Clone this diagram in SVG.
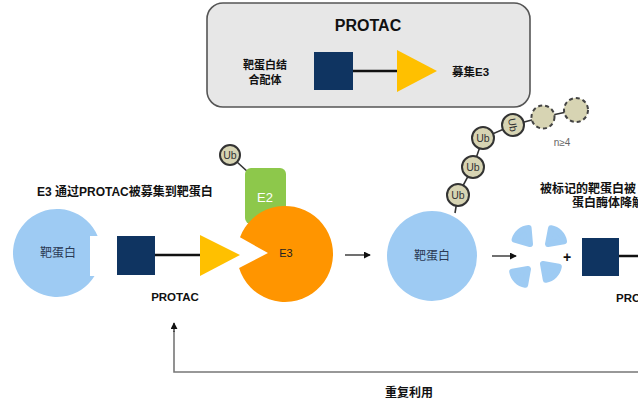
<svg xmlns="http://www.w3.org/2000/svg" width="638" height="400" viewBox="0 0 638 400">
  <style>
    text { font-family: "Liberation Sans", "Noto Sans CJK SC", sans-serif; }
    .b { font-weight: bold; }
    .lbl { font-size: 12px; fill: #111; font-weight: bold; }
    .warhead { fill: #0f3461; }
    .e3lig { fill: #ffc000; }
    .link { stroke: #111; stroke-width: 2.5; }
    .poi { fill: #9ecbf3; }
    .ub { fill: #d7d4b3; stroke: #333; stroke-width: 2; }
    .ubd { fill: #d7d4b3; stroke: #444; stroke-width: 2; stroke-dasharray: 4 3; }
    .ubt { font-size: 10.5px; fill: #333; text-anchor: middle; dominant-baseline: central; }
    .chain { stroke: #333; stroke-width: 1.6; fill: none; }
    .frag { fill: #9ecbf3; stroke: #9ecbf3; stroke-width: 6; stroke-linejoin: round; }
    .arr { stroke: #222; stroke-width: 1.3; fill: none; marker-end: url(#ah); }
    .loop { stroke: #777; stroke-width: 1.6; fill: none; }
  </style>
  <defs>
    <marker id="ah" viewBox="0 0 8 8" refX="7" refY="4" markerWidth="7" markerHeight="7" markerUnits="userSpaceOnUse" orient="auto">
      <path d="M0,0 L8,4 L0,8 z" fill="#111"/>
    </marker>
  </defs>

  <!-- legend box: PROTAC structure -->
  <g id="legend">
    <rect x="207" y="3" width="323" height="104" rx="16" fill="#e7e7e7" stroke="#555" stroke-width="1.6"/>
    <text x="368" y="31" font-size="16" class="b" text-anchor="middle" fill="#111">PROTAC</text>
    <text x="265" y="69" font-size="11" class="b" text-anchor="middle" fill="#111">靶蛋白结</text>
    <text x="265" y="84" font-size="11" class="b" text-anchor="middle" fill="#111">合配体</text>
    <rect x="314" y="52" width="39" height="38" class="warhead"/>
    <line x1="353" y1="71" x2="398" y2="71" class="link"/>
    <polygon points="397,50 437,71 397,92" class="e3lig"/>
    <text x="452" y="76" font-size="11.5" class="b" fill="#111">募集E3</text>
  </g>

  <!-- step title -->
  <text id="title1" x="37" y="196" class="lbl">E3 通过PROTAC被募集到靶蛋白</text>

  <!-- target protein with binding pocket -->
  <g id="poi1">
    <path d="M97.6,236 A44 44 0 1 0 94.5,276 L90,276 L90,236 Z" class="poi"/>
    <text x="58" y="257" font-size="12" text-anchor="middle" fill="#2b3a55">靶蛋白</text>
  </g>

  <!-- PROTAC molecule -->
  <g id="protac1">
    <rect x="117" y="236" width="38" height="39" class="warhead"/>
    <line x1="155" y1="255" x2="201" y2="255" class="link"/>
    <polygon points="200,235 240,255 200,276" class="e3lig"/>
    <text x="175" y="301" font-size="11.5" class="b" text-anchor="middle" fill="#111">PROTAC</text>
  </g>

  <!-- E2 carrying ubiquitin -->
  <g id="e2">
    <line x1="237" y1="162" x2="249" y2="173" class="chain"/>
    <circle cx="230" cy="155" r="10" class="ub"/>
    <text x="230" y="155" class="ubt">Ub</text>
    <rect x="245" y="168" width="41" height="56" rx="6" fill="#8dc84b"/>
    <text x="265" y="202" font-size="13" text-anchor="middle" fill="#fff">E2</text>
  </g>

  <!-- E3 ligase -->
  <g id="e3">
    <path d="M268,253 L240,237.3 A48 48 0 1 1 239.1,267.9 Z" fill="#ff9500"/>
    <text x="286" y="257" font-size="11" text-anchor="middle" fill="#222">E3</text>
  </g>

  <!-- polyubiquitinated target protein -->
  <g id="poi2">
    <path d="M455,213 L458,195 L473,167 L483,138 L513,125 L543,117 L576,110" class="chain"/>
    <circle cx="432" cy="256" r="45" class="poi"/>
    <text x="432" y="260" font-size="12" text-anchor="middle" fill="#2b3a55">靶蛋白</text>
    <circle cx="458" cy="195" r="11" class="ub"/>
    <text x="458" y="195" class="ubt">Ub</text>
    <circle cx="473" cy="167" r="11" class="ub"/>
    <text x="473" y="167" class="ubt">Ub</text>
    <circle cx="483" cy="138" r="11" class="ub"/>
    <text x="483" y="138" class="ubt">Ub</text>
    <circle cx="513" cy="125" r="11" class="ub"/>
    <text x="513" y="125" class="ubt" transform="rotate(80 513 125)">Ub</text>
    <circle cx="543" cy="117" r="11.5" class="ubd"/>
    <circle cx="576" cy="110" r="12" class="ubd"/>
    <text x="562" y="146" font-size="10" text-anchor="middle" fill="#666">n≥4</text>
  </g>

  <!-- degradation step title -->
  <g id="title2">
    <text x="540" y="193" class="lbl">被标记的靶蛋白被</text>
    <text x="572" y="207" class="lbl">蛋白酶体降解</text>
  </g>

  <!-- degraded fragments -->
  <g id="fragments">
    <path d="M530,244 L514.6,239.6 A16 16 0 0 1 528.6,228.1 Z" class="frag"/>
    <path d="M548,244 L551.0,228.3 A16 16 0 0 1 564.0,241.2 Z" class="frag"/>
    <path d="M528,269 L525.2,284.8 A16 16 0 0 1 512.2,271.8 Z" class="frag"/>
    <path d="M543,264 L558.8,266.8 A16 16 0 0 1 545.8,279.8 Z" class="frag"/>
    <text x="567" y="262" font-size="14" class="b" text-anchor="middle" fill="#111">+</text>
  </g>

  <!-- released PROTAC -->
  <g id="protac2">
    <rect x="582" y="238" width="37" height="38" class="warhead"/>
    <line x1="619" y1="256" x2="640" y2="256" class="link"/>
    <text x="616" y="302" font-size="11.5" class="b" fill="#111">PROTAC</text>
  </g>

  <!-- connectors -->
  <g id="connectors">
    <line x1="345" y1="255" x2="370" y2="255" class="arr"/>
    <line x1="492" y1="256" x2="516" y2="256" class="arr"/>
    <path d="M640,372 L174,372 L174,331" class="loop"/>
    <line x1="174" y1="332" x2="174" y2="323" class="arr"/>
  </g>

  <text id="recycle" x="409" y="397" class="lbl" text-anchor="middle">重复利用</text>
</svg>
